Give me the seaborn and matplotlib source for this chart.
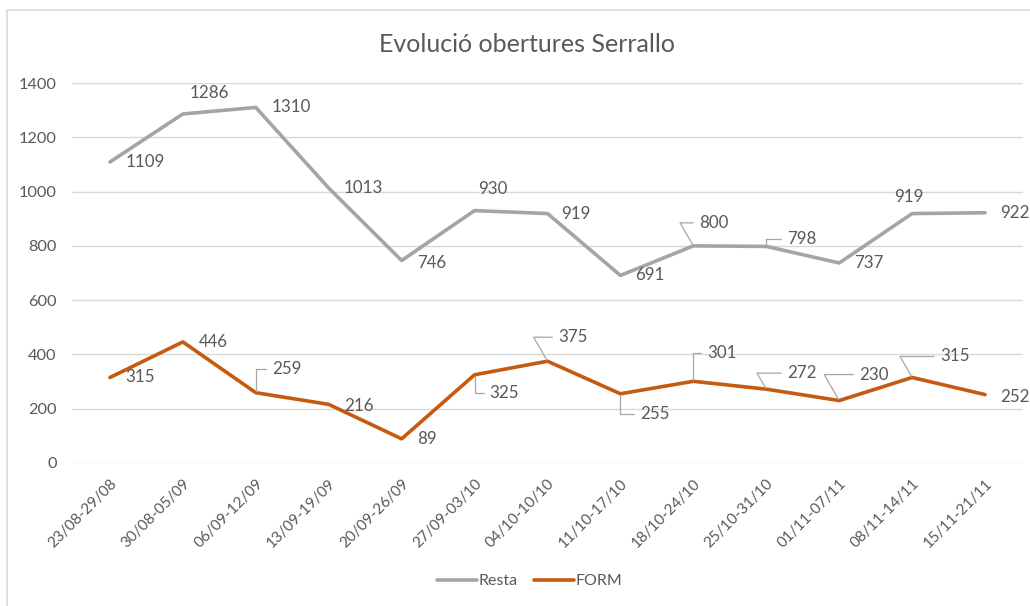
import pandas as pd
import matplotlib.pyplot as plt
import seaborn as sns
from matplotlib.patches import Rectangle

# Data
weeks = ['23/08-29/08', '30/08-05/09', '06/09-12/09', '13/09-19/09', '20/09-26/09',
         '27/09-03/10', '04/10-10/10', '11/10-17/10', '18/10-24/10', '25/10-31/10',
         '01/11-07/11', '08/11-14/11', '15/11-21/11']
resta = [1109, 1286, 1310, 1013, 746, 930, 919, 691, 800, 798, 737, 919, 922]
form = [315, 446, 259, 216, 89, 325, 375, 255, 301, 272, 230, 315, 252]
series_names = ['Resta', 'FORM']
colors = ['#A5A5A5', '#C55A11']

# label placement (offset in pixels from the point, leader line style)
resta_offsets = [(16, 0), (7, 21), (16, 0), (15, 0), (15, -2), (4, 22), (14, 0),
                 (15, 0), (6, 23), (21, 7), (15, 0), (-18, 17), (15, 0)]
resta_leaders = [None, None, None, None, None, None, None,
                 None, 'line', 'elbow', None, None, None]
form_offsets = [(15, 0), (16, 0), (16, 24), (15, -2), (15, 0), (15, -18), (11, 24),
                (20, -20), (14, 28), (21, 16), (20, 26), (28, 21), (15, -2)]
form_leaders = [None, None, 'elbow', None, None, 'elbow', 'line',
                'elbow', 'elbow', 'line', 'line', 'line', None]

df = pd.DataFrame({
    'Setmana': weeks * 2,
    'Obertures': resta + form,
    'Serie': [series_names[0]] * len(weeks) + [series_names[1]] * len(weeks),
})

sns.set_theme(style='white')
plt.rcParams['font.family'] = ['Lato', 'DejaVu Sans']
text_color = '#595959'

fig = plt.figure(figsize=(10.3, 6.06), dpi=100)
ax = fig.add_axes([0.0699, 0.236, 0.9233, 0.627])

sns.lineplot(data=df, x='Setmana', y='Obertures', hue='Serie', palette=colors,
             sort=False, linewidth=2.6, ax=ax, legend=True, solid_capstyle='round')

ax.set_ylim(0, 1400)
ax.set_yticks(range(0, 1401, 200))
ax.set_xlim(-0.52, len(weeks) - 0.48)
ax.grid(axis='y', color='#D9D9D9', linewidth=1.0)
ax.set_axisbelow(True)
for s in ax.spines.values():
    s.set_visible(False)
ax.set_xlabel('')
ax.set_ylabel('')
ax.tick_params(axis='y', length=0, pad=11, labelsize=11.8, labelcolor=text_color)
ax.tick_params(axis='x', length=0, pad=10, labelsize=11, labelcolor=text_color)
plt.setp(ax.get_xticklabels(), rotation=45, ha='right', rotation_mode='anchor')


def add_labels(values, offsets, leaders):
    for i, v in enumerate(values):
        dx, dy = offsets[i]
        arrow = None
        if leaders[i] == 'elbow':
            arrow = dict(arrowstyle='-', color='#A6A6A6', lw=0.9, relpos=(0, 0.5),
                         shrinkA=2, shrinkB=1,
                         connectionstyle='angle,angleA=0,angleB=90,rad=0')
        elif leaders[i] == 'line':
            arrow = dict(arrowstyle='-', color='#A6A6A6', lw=0.9, relpos=(0, 0.5),
                         shrinkA=2, shrinkB=1,
                         connectionstyle='angle,angleA=0,angleB=120,rad=0')
        ax.annotate(str(v), xy=(weeks[i], v), xytext=(dx, dy), textcoords='offset pixels',
                    ha='left', va='center', fontsize=12.2, color=text_color,
                    arrowprops=arrow, annotation_clip=False)


add_labels(resta, resta_offsets, resta_leaders)
add_labels(form, form_offsets, form_leaders)

fig.text(0.512, 0.926, 'Evolució obertures Serrallo', ha='center', va='center',
         fontsize=18, color=text_color)

handles, labels = ax.get_legend_handles_labels()
ax.legend(handles, labels, loc='center', bbox_to_anchor=(0.514, 0.041),
          bbox_transform=fig.transFigure, ncol=2, frameon=False, fontsize=11.5,
          handlelength=2.5, handletextpad=0.1, columnspacing=1.0,
          labelcolor=text_color)

fig.patches.append(Rectangle((0.0068, -0.1), 1.2, 1.0835, transform=fig.transFigure,
                             fill=False, edgecolor='#D9D9D9', linewidth=1.2))

fig.savefig('out.png', dpi=100)
